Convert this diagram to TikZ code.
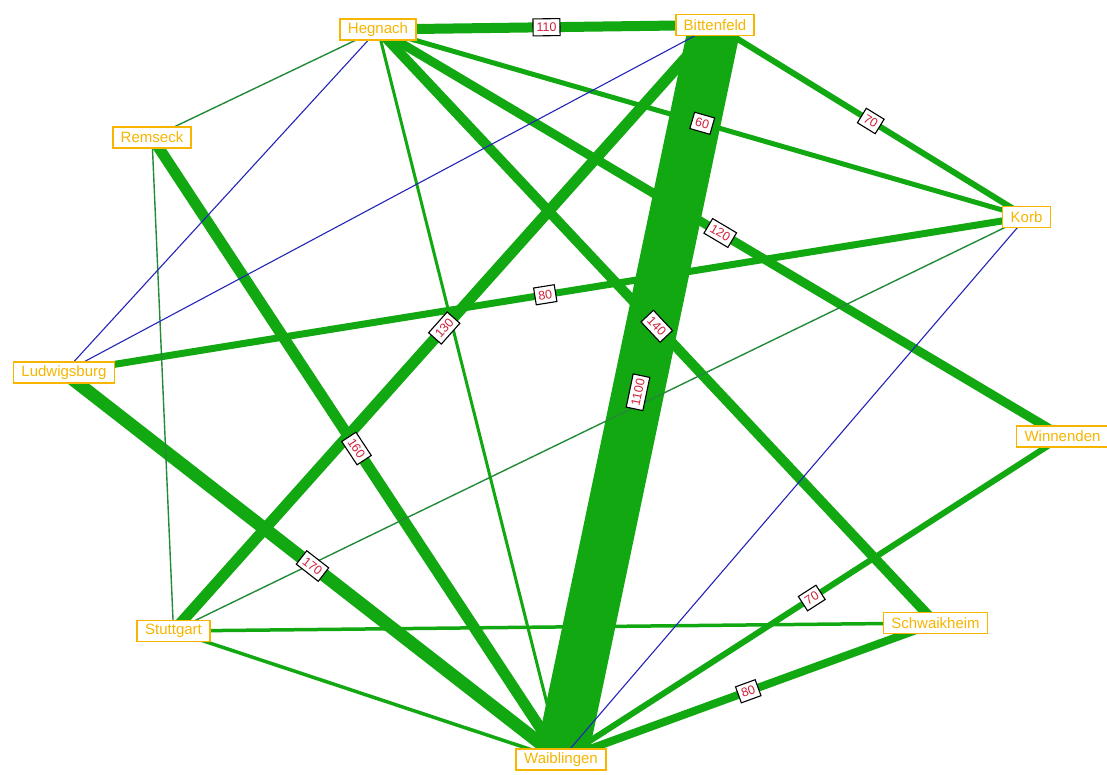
\documentclass[tikz,border=0pt]{standalone}
\usepackage{fontspec}
\setsansfont{Liberation Sans}
\usetikzlibrary{backgrounds}
\definecolor{townorange}{HTML}{F7B500}
\definecolor{flowgreen}{HTML}{12A812}
\definecolor{thingreen}{HTML}{238A3A}
\definecolor{minorblue}{HTML}{2424B8}
\definecolor{amountred}{HTML}{D0203A}

\tikzset{
  town/.style={draw=townorange,line width=1.6pt,fill=white,text=townorange,
    font=\sffamily\fontsize{15}{17}\selectfont,inner xsep=8pt,inner ysep=2pt,
    minimum height=21pt},
  flow/.style={draw=flowgreen,line cap=butt},
  thinflow/.style={draw=thingreen,line width=1.4pt},
  minorflow/.style={draw=minorblue,line width=1.1pt},
  amount/.style={draw=black,line width=1.1pt,fill=white,text=amountred,
    font=\sffamily\fontsize{12.5}{13}\selectfont,inner xsep=3.5pt,inner ysep=1pt,
    minimum height=17pt}
}

\begin{document}
\begin{tikzpicture}[x=1pt,y=-1pt]
 \useasboundingbox (0,0) rectangle (1107,774);
 % towns
 \node[town] (hegnach) at (378,29.5) {Hegnach};
 \node[town] (bittenfeld) at (715,25) {Bittenfeld};
 \node[town] (remseck) at (152,137.5) {Remseck};
 \node[town] (ludwigsburg) at (64,372.5) {Ludwigsburg};
 \node[town] (korb) at (1026.5,217) {Korb};
 \node[town] (winnenden) at (1062.5,436.5) {Winnenden};
 \node[town] (stuttgart) at (173.5,631) {Stuttgart};
 \node[town] (schwaikheim) at (935.5,623) {Schwaikheim};
 \node[town] (waiblingen) at (561,759.5) {Waiblingen};
 % flows, kept behind the towns
 \begin{pgfonlayer}{background}
  \foreach \a/\b/\w in {hegnach/bittenfeld/10,hegnach/korb/5,bittenfeld/korb/6,
      hegnach/winnenden/9,ludwigsburg/korb/7,bittenfeld/stuttgart/11,
      hegnach/schwaikheim/10,bittenfeld/waiblingen/52,remseck/waiblingen/11,
      ludwigsburg/waiblingen/13,winnenden/waiblingen/6,schwaikheim/waiblingen/8,
      hegnach/waiblingen/3,stuttgart/schwaikheim/3.5,stuttgart/waiblingen/3.5}
   \draw[flow,line width=\w pt] (\a.center)--(\b.center);
  \foreach \a/\b in {hegnach/remseck,remseck/stuttgart,korb/stuttgart}
   \draw[thinflow] (\a.center)--(\b.center);
  \foreach \a/\b in {hegnach/ludwigsburg,bittenfeld/ludwigsburg,korb/waiblingen}
   \draw[minorflow] (\a.center)--(\b.center);
 \end{pgfonlayer}
 % amounts
 \foreach \a/\b/\n in {hegnach/bittenfeld/110,hegnach/korb/60,bittenfeld/korb/70,
     hegnach/winnenden/120,ludwigsburg/korb/80,bittenfeld/stuttgart/130,
     hegnach/schwaikheim/140,bittenfeld/waiblingen/1100,remseck/waiblingen/160,
     ludwigsburg/waiblingen/170,winnenden/waiblingen/70,schwaikheim/waiblingen/80}
  \path (\a.center)--(\b.center) node[midway,sloped,amount] {\n};
\end{tikzpicture}
\end{document}
